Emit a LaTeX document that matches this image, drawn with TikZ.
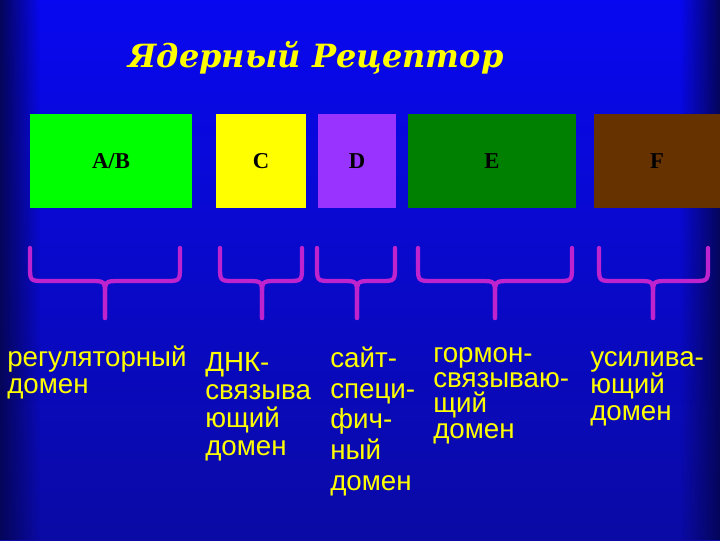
\documentclass[tikz,border=0pt]{standalone}
\usepackage{fontspec}
\newfontfamily\lsans{Liberation Sans}
\newfontfamily\lserif{Liberation Serif}
\newfontfamily\dserif{DejaVu Serif}
\usetikzlibrary{fadings}
\definecolor{bgtop}{RGB}{8,8,240}
\definecolor{bgbot}{RGB}{10,10,165}
\definecolor{bgedge}{RGB}{5,5,90}
\definecolor{cAB}{RGB}{0,255,0}
\definecolor{cC}{RGB}{255,255,0}
\definecolor{cD}{RGB}{153,51,255}
\definecolor{cE}{RGB}{0,128,0}
\definecolor{cF}{RGB}{102,51,0}
\definecolor{bracecol}{RGB}{190,35,205}
\definecolor{txt}{RGB}{255,255,0}
\begin{document}
\begin{tikzpicture}[x=0.75pt,y=-0.75pt,
  dom/.style={draw=none, inner sep=0pt, minimum height=70.5pt,
    font=\lserif\bfseries\fontsize{17}{20}\selectfont, text=black},
  brace/.style={draw=bracecol, line width=3.2pt, line cap=round, line join=round},
  lbl/.style={text=txt, align=left, inner sep=0pt, anchor=base west},
  title/.style={text=txt, inner sep=0pt, anchor=base,
    font=\dserif\bfseries\itshape\fontsize{24}{28}\selectfont}]
\useasboundingbox (0,0) rectangle (720,540);
% background
\shade[top color=bgtop, bottom color=bgbot] (0,0) rectangle (720,540);
\fill[bgedge, path fading=east] (0,0) rectangle (40,540);
\fill[bgedge, path fading=west] (680,0) rectangle (720,540);
% title
\node[title] (title) at (316,67) {Ядерный Рецептор};
% domain boxes
\node[dom, fill=cAB, minimum width=121.5pt] (ab) at (111,161) {A/B};
\node[dom, fill=cC, minimum width=67.5pt] (c) at (261,161) {C};
\node[dom, fill=cD, minimum width=58.5pt] (d) at (357,161) {D};
\node[dom, fill=cE, minimum width=126pt] (e) at (492,161) {E};
\node[dom, fill=cF, minimum width=94.5pt] (f) at (657,161) {F};
% braces
\foreach \l/\c/\r in {30/105/180, 220/262/302, 317/357/395, 418/495/572, 599/653/708}{
  \draw[brace] (\l,248) -- (\l,266) .. controls (\l,281) .. (\l+15,281) -- (\c-15,281)
     .. controls (\c,281) .. (\c,296) -- (\c,318);
  \draw[brace] (\r,248) -- (\r,266) .. controls (\r,281) .. (\r-15,281) -- (\c+15,281)
     .. controls (\c,281) .. (\c,296) -- (\c,318);
}
% texts (anchored at the baseline of their last line)
\node[lbl, font=\lsans\fontsize{20.8}{20.25}\selectfont] (t1) at (7,393) {регуляторный\\домен};
\node[lbl, font=\lsans\fontsize{20.8}{21}\selectfont] (t2) at (205,455) {ДНК-\\связыва\\ющий\\домен};
\node[lbl, font=\lsans\fontsize{20.8}{23}\selectfont] (t3) at (330,490) {сайт-\\специ-\\фич-\\ный\\домен};
\node[lbl, font=\lsans\fontsize{20.8}{19}\selectfont] (t4) at (433,438) {гормон-\\связываю-\\щий\\домен};
\node[lbl, font=\lsans\fontsize{20.8}{20.25}\selectfont] (t5) at (590,420) {усилива-\\ющий\\домен};
\end{tikzpicture}
\end{document}
